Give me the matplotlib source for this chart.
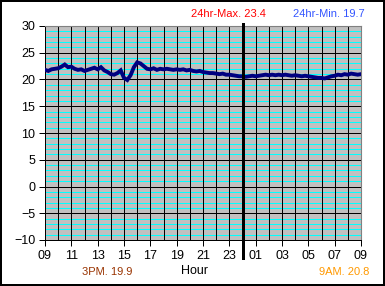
import numpy as np
import matplotlib.pyplot as plt
from matplotlib.ticker import MultipleLocator

plt.rcParams['font.family'] = ['Liberation Sans', 'DejaVu Sans']

# hours after 09:00, one reading every 15 minutes
hours = np.arange(0, 24.01, 0.25)
temp = [21.8, 21.6, 21.9, 22.0, 22.1, 22.4, 22.8, 22.3, 22.4, 22.0,
        21.8, 21.9, 21.6, 21.8, 22.0, 22.2, 21.9, 22.3, 21.7, 21.4,
        21.0, 20.9, 21.2, 21.7, 20.3, 19.9, 20.8, 22.3, 23.2, 23.0,
        22.5, 22.0, 21.9, 22.1, 21.8, 22.0, 21.9, 22.0, 21.9, 21.8,
        21.9, 21.8, 21.9, 21.7, 21.8, 21.6, 21.5, 21.6, 21.4, 21.3,
        21.2, 21.2, 21.1, 21.0, 21.1, 20.9, 20.9, 20.8, 20.7, 20.6,
        20.6, 20.5, 20.6, 20.7, 20.6, 20.7, 20.8, 20.9, 20.8, 20.9,
        20.8, 20.9, 20.8, 20.9, 20.8, 20.7, 20.8, 20.7, 20.6, 20.7,
        20.6, 20.5, 20.4, 20.3, 20.3, 20.2, 20.4, 20.6, 20.7, 20.9,
        20.8, 21.0, 20.9, 21.1, 21.0, 20.9, 21.0]
tick_hours = list(range(0, 25, 2))
tick_labels = ['%02d' % ((9 + h) % 24) for h in tick_hours]
midnight = 15

px = 72 / 100  # one pixel in points

fig = plt.figure(figsize=(3.85, 2.86), dpi=100)
fig.patch.set_facecolor('white')
fig.patch.set_edgecolor('black')
fig.patch.set_linewidth(1.5)

ax = fig.add_axes([45/385, 46/286, 316/385, 214/286])
ax.set_facecolor('#C0C0C0')
ax.set_xlim(0, 24)
ax.set_ylim(-10, 30)

ax.yaxis.set_major_locator(MultipleLocator(5))
ax.yaxis.set_minor_locator(MultipleLocator(1))
ax.xaxis.set_minor_locator(MultipleLocator(1))
ax.set_xticks(tick_hours)
ax.set_xticklabels(tick_labels)

ax.set_axisbelow(True)
ax.grid(which='minor', axis='y', color='#00FFFF', linewidth=px, antialiased=False)
ax.grid(which='major', axis='y', color='black', linewidth=px, antialiased=False)
ax.grid(which='both', axis='x', color='black', linewidth=px, antialiased=False)
ax.xaxis.set_zorder(0.6)
ax.tick_params(which='minor', length=0)
ax.tick_params(which='major', direction='out', length=4, width=px, labelsize=9, pad=3)

for s in ['top', 'right']:
    ax.spines[s].set_color('#808080')
for s in ['left', 'bottom']:
    ax.spines[s].set_color('black')
    ax.spines[s].set_linewidth(px)

ax.plot(hours, temp, color='#000080', linewidth=2.8, solid_joinstyle='miter', zorder=3)
ax.axvline(midnight, ymin=-0.084, ymax=1.01, color='black', linewidth=3 * px,
           clip_on=False, zorder=4)

fig.text(228/385, 1 - 14/286, '24hr-Max. 23.4', color='#FF0000', fontsize=8, ha='center', va='center')
fig.text(329/385, 1 - 14/286, '24hr-Min. 19.7', color='#3355FF', fontsize=8, ha='center', va='center')
fig.text(107/385, 1 - 272/286, '3PM. 19.9', color='#993300', fontsize=8, ha='center', va='center')
fig.text(195/385, 1 - 271/286, 'Hour', color='black', fontsize=9, ha='center', va='center')
fig.text(344/385, 1 - 272/286, '9AM. 20.8', color='#FF9900', fontsize=8, ha='center', va='center')

fig.savefig('out.png', dpi=100, facecolor=fig.get_facecolor(), edgecolor=fig.get_edgecolor())
